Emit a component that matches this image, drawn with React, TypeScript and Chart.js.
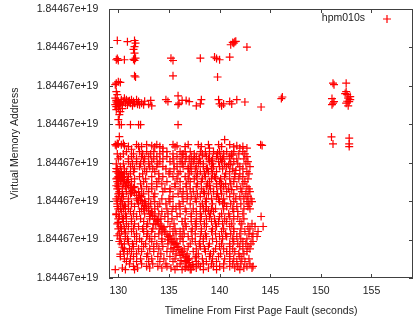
import React, { useEffect, useRef } from "react";
import { Chart, registerables } from "chart.js";

Chart.register(...registerables);

const seriesName = "hpm010s";
const xTitle = "Timeline From First Page Fault (seconds)";
const yTitle = "Virtual Memory Address";
const xTickValues = [130, 135, 140, 145, 150, 155];
const xTickLabels = ["130", "135", "140", "145", "150", "155"];
const yTickValues = [0, 1, 2, 3, 4, 5, 6, 7];
const yTickLabels = [
  "1.84467e+19", "1.84467e+19", "1.84467e+19", "1.84467e+19",
  "1.84467e+19", "1.84467e+19", "1.84467e+19", "1.84467e+19",
];

// sparse faults in the upper address range
const upperPoints: [number, number][] = [
  [129.9, 6.18], [130.9, 6.15], [131.6, 6.18], [131.7, 6.11], [131.6, 6.02], [131.5, 5.95],
  [131.6, 5.85], [131.7, 5.72], [131.5, 5.69], [131.6, 5.66], [129.8, 5.68], [130.0, 5.66],
  [130.6, 5.68], [129.9, 5.71], [135.2, 5.72], [135.4, 5.66], [138.1, 5.72], [139.5, 5.75],
  [139.7, 5.71], [140.0, 5.68], [141.0, 5.75], [141.1, 6.07], [141.3, 6.13], [141.5, 6.15],
  [141.6, 6.16], [141.4, 6.11], [142.7, 6.01], [131.6, 5.26], [131.7, 5.23], [135.4, 5.26],
  [139.8, 5.23], [129.8, 5.07], [130.0, 5.11], [130.2, 5.09], [129.7, 5.03], [129.8, 4.85],
  [129.9, 4.77],
];

// band of faults around the upper middle address
const upperBand: [number, number][] = [
  [129.7, 4.68], [129.8, 4.62], [130.0, 4.59], [130.2, 4.55], [129.7, 4.51], [129.8, 4.46],
  [130.3, 4.64], [130.5, 4.59], [130.7, 4.55], [130.8, 4.64], [131.0, 4.59], [131.2, 4.55],
  [131.3, 4.64], [131.5, 4.59], [131.6, 4.55], [131.8, 4.64], [132.0, 4.59], [132.1, 4.51],
  [132.3, 4.55], [132.5, 4.51], [130.0, 4.42], [130.2, 4.33], [129.8, 4.38], [130.1, 4.25],
  [130.4, 4.5], [130.9, 4.5], [131.4, 4.48], [129.9, 4.55], [130.1, 4.48], [133.2, 4.62],
  [133.3, 4.48], [134.7, 4.64], [134.9, 4.59], [135.9, 4.74], [136.0, 4.55], [135.9, 4.51],
  [136.3, 4.62], [136.7, 4.62], [137.0, 4.59], [137.7, 4.48], [138.1, 4.53], [138.2, 4.64],
  [139.9, 4.64], [140.0, 4.53], [140.2, 4.48], [140.4, 4.53], [141.0, 4.59], [141.2, 4.53],
  [141.7, 4.64], [142.5, 4.58], [144.1, 4.45], [146.2, 4.71], [146.1, 4.67],
  [130.6, 4.68], [131.1, 4.61], [131.9, 4.52], [132.6, 4.6], [133.0, 4.52], [130.4, 4.41],
  [130.0, 4.52], [129.8, 4.58],
  [130.0, 4.12], [130.1, 3.99], [130.3, 3.99], [131.2, 3.99], [132.0, 3.99], [132.2, 3.99],
  [135.9, 3.99],
];

// late faults near 151-153 s
const lateCluster: [number, number][] = [
  [151.2, 5.07], [151.3, 5.03], [152.5, 5.07], [151.1, 4.67], [151.2, 4.55], [151.1, 4.51],
  [151.3, 4.59], [152.5, 4.85], [152.6, 4.77], [152.7, 4.68], [152.8, 4.59], [152.5, 4.55],
  [152.7, 4.48], [152.9, 4.64], [152.9, 4.72], [151.05, 3.67], [151.2, 3.49], [152.8, 3.64],
  [152.8, 3.49], [152.8, 3.42], [152.4, 4.8], [152.6, 4.6],
];

// band just above the dense block
const lowerBand: [number, number][] = [
  [129.7, 3.47], [129.8, 3.44], [130.0, 3.49], [130.1, 3.68], [130.3, 3.47], [130.6, 3.44],
  [131.0, 3.42], [131.3, 3.35], [131.8, 3.47], [132.0, 3.42], [132.3, 3.42], [132.8, 3.47],
  [133.3, 3.44], [133.6, 3.41], [133.8, 3.47], [134.1, 3.42], [134.4, 3.38], [135.4, 3.47],
  [135.6, 3.41], [135.8, 3.44], [136.6, 3.42], [136.9, 3.47], [137.9, 3.47], [138.2, 3.42],
  [138.9, 3.47], [139.0, 3.38], [139.9, 3.47], [140.2, 3.42], [140.5, 3.6], [141.0, 3.47],
  [141.4, 3.41], [141.7, 3.44], [142.0, 3.38], [142.3, 3.42], [142.7, 3.38], [144.05, 3.47],
  [144.2, 3.45], [130.5, 3.5], [129.9, 3.5],
];

// dense block, read row by row
const denseRowY = [
  3.29, 3.16, 3.03, 2.9, 2.77, 2.64, 2.51, 2.38, 2.25, 2.12, 1.99, 1.86, 1.73,
  1.6, 1.47, 1.34, 1.21, 1.08, 0.95, 0.82, 0.69, 0.56, 0.43, 0.3, 0.22,
  3.23, 3.1, 2.97, 2.84, 2.71, 2.58, 2.45, 2.32, 2.19, 2.06, 1.93, 1.8,
  1.67, 1.54, 1.41, 1.28, 1.15, 1.02, 0.89, 0.76, 0.63, 0.5, 0.37, 0.26,
];
const denseRowX: number[][] = [
  [130.8, 132.1, 132.8, 133.5, 134.4, 134.8, 136.1, 136.6, 137.1, 138.1, 138.6, 139.4, 140.0, 140.7, 141.4, 142.3],
  [130.2, 131.3, 132.3, 133.0, 133.8, 134.8, 135.8, 136.7, 137.2, 137.7, 138.7, 139.7, 140.4, 141.0, 142.7],
  [131.0, 131.8, 132.5, 133.3, 134.1, 135.1, 136.1, 136.6, 137.4, 138.1, 139.0, 139.9, 140.2, 141.4, 142.8],
  [130.2, 131.2, 132.1, 133.1, 133.8, 134.4, 135.8, 136.4, 137.1, 137.7, 138.4, 139.4, 140.0, 140.7, 142.0, 143.0],
  [129.8, 130.3, 130.8, 131.5, 132.8, 133.6, 135.1, 136.1, 137.2, 138.1, 138.9, 139.7, 141.0, 142.7],
  [130.0, 130.5, 131.0, 132.1, 133.3, 134.4, 135.4, 136.6, 137.7, 138.6, 139.5, 140.5, 141.5, 142.3],
  [129.9, 130.2, 131.3, 132.5, 133.8, 134.8, 136.1, 137.1, 138.2, 139.0, 140.0, 141.4, 142.5],
  [130.0, 130.7, 131.6, 132.8, 133.8, 135.6, 136.7, 137.7, 138.7, 139.7, 140.4, 141.7, 142.7],
  [130.1, 130.8, 132.0, 133.0, 134.4, 135.1, 136.4, 137.4, 138.4, 139.4, 140.7, 142.2, 143.0],
  [130.0, 130.5, 132.3, 133.5, 135.4, 136.3, 137.2, 138.1, 139.7, 141.0, 142.0, 142.8],
  [130.2, 131.0, 132.6, 133.6, 135.1, 136.4, 137.7, 138.6, 140.0, 141.4, 142.7, 143.2],
  [129.9, 130.7, 131.6, 133.0, 133.9, 135.4, 136.1, 138.1, 138.7, 140.7, 141.7, 142.8],
  [130.3, 131.2, 132.1, 133.3, 134.3, 135.3, 136.7, 137.7, 138.6, 139.4, 141.4, 141.8],
  [130.1, 130.8, 131.8, 133.6, 134.6, 135.8, 137.2, 138.2, 139.0, 140.0, 141.0, 141.8, 144.1],
  [130.5, 131.3, 132.5, 133.9, 134.9, 136.3, 137.2, 138.1, 139.2, 139.9, 140.7, 142.0],
  [130.2, 131.0, 132.0, 132.8, 134.3, 135.1, 136.7, 137.7, 138.7, 139.7, 141.0, 142.8, 143.5, 144.3],
  [130.3, 131.3, 132.5, 133.3, 134.6, 135.4, 136.1, 137.2, 138.2, 139.2, 140.2, 141.4, 142.5, 143.8],
  [130.7, 131.6, 132.8, 133.6, 134.9, 136.3, 136.9, 138.1, 138.7, 140.0, 140.7, 141.7, 143.2, 143.7],
  [131.0, 131.8, 132.3, 133.3, 134.3, 135.3, 136.4, 137.6, 138.4, 139.7, 141.4, 142.3, 143.3],
  [131.5, 132.5, 133.5, 134.4, 135.9, 136.9, 138.1, 138.9, 140.0, 141.0, 142.0, 142.8],
  [130.5, 131.3, 132.3, 133.5, 134.8, 135.4, 136.3, 137.4, 138.6, 139.4, 140.7, 141.5, 142.7],
  [130.2, 131.5, 132.8, 133.9, 135.1, 136.7, 137.7, 139.0, 139.9, 141.0, 142.0],
  [130.8, 131.8, 133.0, 134.1, 135.4, 136.6, 137.7, 138.7, 139.7, 141.0, 141.7, 142.5],
  [131.5, 132.8, 133.9, 134.8, 135.8, 136.7, 137.4, 138.1, 139.4, 140.0, 141.0, 141.8, 142.7, 143.3],
  [129.7, 130.7, 131.6, 135.6, 136.3, 137.1, 138.4, 139.7, 142.0],
  [129.9, 130.5, 131.5, 132.4, 133.2, 134.1, 135.4, 136.4, 137.5, 138.3, 139.0, 139.8, 140.4, 141.2, 141.9, 142.5],
  [130.0, 131.0, 131.8, 132.6, 133.5, 134.4, 135.4, 136.3, 137.0, 138.0, 138.9, 139.3, 140.1, 141.0, 141.7, 142.4],
  [129.8, 130.5, 131.4, 132.2, 133.0, 133.9, 135.5, 136.3, 137.2, 138.4, 139.3, 140.5, 141.1, 141.8, 142.6],
  [129.9, 130.6, 131.6, 132.6, 133.4, 134.7, 135.5, 136.9, 137.6, 138.7, 139.2, 140.3, 141.3, 142.3],
  [130.1, 130.6, 131.2, 132.4, 134.0, 135.0, 135.9, 137.0, 137.8, 138.5, 139.3, 140.6, 141.5, 142.0, 142.9],
  [129.8, 130.3, 131.6, 132.7, 134.0, 135.8, 136.9, 137.5, 138.3, 139.2, 140.1, 141.0, 141.9, 142.8],
  [130.0, 130.5, 131.0, 132.2, 133.3, 134.3, 135.6, 136.7, 137.8, 138.8, 139.7, 140.6, 141.1, 142.3],
  [129.9, 130.4, 131.3, 132.3, 133.3, 134.6, 135.1, 136.1, 137.1, 138.2, 139.1, 140.1, 140.9, 142.1, 142.9],
  [130.0, 130.4, 131.2, 132.5, 133.6, 135.9, 136.8, 137.8, 138.9, 139.8, 140.2, 141.4, 142.6],
  [129.8, 130.3, 131.0, 131.8, 133.0, 134.3, 135.0, 136.8, 137.6, 138.7, 139.2, 140.4, 141.6, 142.4, 143.1],
  [129.9, 130.4, 131.3, 132.0, 133.2, 134.1, 134.7, 136.0, 137.1, 138.3, 139.3, 140.3, 141.1, 142.1, 142.9],
  [130.0, 130.5, 131.0, 132.3, 133.6, 134.8, 135.7, 136.6, 137.4, 138.4, 139.2, 140.4, 141.3, 142.4, 143.0],
  [129.8, 130.7, 131.5, 132.6, 134.0, 134.9, 136.1, 137.2, 138.1, 139.1, 140.2, 140.9, 142.3],
  [130.0, 130.4, 131.3, 132.2, 133.1, 134.2, 135.3, 136.6, 137.7, 138.7, 139.5, 140.5, 141.4, 142.4],
  [129.9, 130.8, 131.6, 132.9, 133.5, 135.5, 136.6, 137.6, 138.5, 139.6, 140.3, 141.2, 142.2, 143.2],
  [130.0, 130.6, 131.5, 132.4, 133.4, 134.1, 135.6, 136.4, 137.3, 138.2, 139.3, 140.4, 141.4, 142.1, 143.0],
  [130.1, 130.7, 131.8, 132.9, 134.0, 135.7, 136.5, 137.6, 138.6, 139.6, 140.6, 141.1, 142.0, 142.9, 143.3],
  [130.2, 130.9, 132.1, 133.1, 134.3, 135.5, 136.1, 137.3, 138.4, 139.3, 140.3, 141.3, 142.1, 142.7],
  [130.3, 130.6, 131.4, 132.7, 133.8, 134.9, 135.8, 137.1, 138.0, 139.0, 140.2, 141.0, 141.8, 142.6, 143.1],
  [130.6, 131.1, 132.0, 133.1, 134.0, 135.2, 136.5, 137.7, 138.5, 139.6, 140.4, 141.3, 142.3, 143.0],
  [130.9, 131.8, 132.9, 134.2, 135.7, 136.8, 137.9, 139.1, 140.1, 141.0, 141.9, 142.4],
  [130.6, 131.2, 132.2, 133.3, 134.5, 135.6, 137.0, 138.3, 139.3, 140.5, 141.4, 142.2, 142.9],
  [131.1, 132.3, 133.4, 134.7, 136.1, 137.9, 138.4, 139.2, 140.4, 141.3, 142.1, 143.0],
  [130.4, 131.9, 133.1, 134.3, 135.2, 136.6, 137.7, 138.9, 140.4, 141.5, 142.4, 143.2],
];

// the sweeping diagonal streak and the dense left column
const diagonalPoints: [number, number][] = [
  [130.0, 2.73], [130.2, 2.68], [130.4, 2.62], [130.6, 2.55], [130.8, 2.49], [131.0, 2.41],
  [131.2, 2.36], [131.4, 2.28], [131.6, 2.22], [131.8, 2.15], [132.0, 2.08], [132.2, 2.02],
  [132.4, 1.95], [132.6, 1.87], [132.8, 1.81], [133.0, 1.75], [133.2, 1.67], [133.4, 1.62],
  [133.6, 1.54], [133.8, 1.48], [134.0, 1.41], [134.2, 1.35], [134.4, 1.27], [134.6, 1.21],
  [134.8, 1.14], [135.0, 1.07], [135.2, 1.01], [135.4, 0.93], [135.6, 0.88], [135.8, 0.8],
  [136.0, 0.74], [136.2, 0.67], [136.4, 0.6], [136.6, 0.54], [136.8, 0.46], [137.0, 0.4],
  [137.1, 0.31], [130.3, 2.75], [130.9, 2.56], [131.5, 2.35], [132.1, 2.15], [132.7, 1.93],
  [133.3, 1.72], [133.9, 1.52], [134.5, 1.32], [135.1, 1.1], [135.7, 0.9], [136.3, 0.7],
  [136.9, 0.5], [130.1, 2.62], [130.7, 2.42], [131.3, 2.21], [131.9, 2.01], [132.5, 1.8],
  [133.1, 1.6], [133.7, 1.4], [134.3, 1.2], [134.9, 0.99], [135.5, 0.79], [136.1, 0.59],
  [136.7, 0.39], [137.2, 0.22],
];
const leftColumn: [number, number][] = [
  [129.8, 2.85], [129.9, 2.6], [129.8, 2.4], [130.1, 2.2], [129.9, 2.0], [130.2, 1.8],
  [129.8, 1.65], [130.0, 1.45], [130.3, 1.3], [129.9, 1.1], [130.1, 0.95], [130.4, 0.8],
  [130.2, 0.62], [130.6, 1.9], [130.5, 1.55], [130.7, 1.2],
];
const extraDense: [number, number][] = [
  [136.3, 3.22], [137.5, 3.1], [138.3, 3.2], [139.2, 3.05], [139.8, 3.25], [140.3, 3.1],
  [141.2, 3.2], [140.9, 2.95], [138.8, 2.85], [137.9, 2.98], [136.9, 2.85], [141.6, 2.8],
  [139.0, 2.4], [138.5, 2.2], [139.6, 2.6], [140.2, 2.45], [139.9, 2.05], [140.5, 1.95],
  [138.9, 1.75], [139.6, 1.8], [141.2, 2.3], [136.2, 0.45], [136.9, 0.28], [137.6, 0.52],
  [137.3, 0.35],
];

const FONT = { family: '"Liberation Sans", Arial, sans-serif', size: 10.5 };
const TEXT_COLOR = "#222";

const framePlugin = {
  id: "gnuFrame",
  beforeDatasetsDraw(chart: any) {
    const { ctx, chartArea, scales } = chart;
    const { left, right, top, bottom } = chartArea;
    ctx.save();
    ctx.strokeStyle = "#404040";
    ctx.lineWidth = 1;
    ctx.strokeRect(left + 0.5, top + 0.5, right - left - 1, bottom - top - 1);
    const tl = 4;
    ctx.beginPath();
    scales.x.ticks.forEach((t: any) => {
      const px = Math.round(scales.x.getPixelForValue(t.value)) + 0.5;
      ctx.moveTo(px, bottom);
      ctx.lineTo(px, bottom - tl);
      ctx.moveTo(px, top);
      ctx.lineTo(px, top + tl);
    });
    scales.y.ticks.forEach((t: any) => {
      const py = Math.round(scales.y.getPixelForValue(t.value)) + 0.5;
      ctx.moveTo(left, py);
      ctx.lineTo(left + tl, py);
      ctx.moveTo(right, py);
      ctx.lineTo(right - tl, py);
    });
    ctx.stroke();
    ctx.restore();
  },
  afterDraw(chart: any) {
    const { ctx, chartArea } = chart;
    const { right, top } = chartArea;
    ctx.save();
    ctx.font = `${FONT.size}px ${FONT.family}`;
    ctx.fillStyle = TEXT_COLOR;
    ctx.textAlign = "right";
    ctx.textBaseline = "middle";
    ctx.fillText(seriesName, right - 48, top + 9.5);
    const mx = right - 26;
    const my = top + 10;
    ctx.strokeStyle = "rgb(255,0,0)";
    ctx.lineWidth = 1.2;
    ctx.beginPath();
    ctx.moveTo(mx - 4, my);
    ctx.lineTo(mx + 4, my);
    ctx.moveTo(mx, my - 4);
    ctx.lineTo(mx, my + 4);
    ctx.stroke();
    ctx.restore();
  },
};

export default function App() {
  const ref = useRef<HTMLCanvasElement>(null);
  useEffect(() => {
    if (!ref.current) return;
    const dense: { x: number; y: number }[] = [];
    denseRowY.forEach((y, i) => denseRowX[i].forEach((x) => dense.push({ x, y })));
    const toPts = (arr: [number, number][]) => arr.map(([x, y]) => ({ x, y }));
    const data = [
      ...toPts(upperPoints),
      ...toPts(upperBand),
      ...toPts(lateCluster),
      ...toPts(lowerBand),
      ...dense,
      ...toPts(diagonalPoints),
      ...toPts(leftColumn),
      ...toPts(extraDense),
    ];
    const chart = new Chart(ref.current, {
      type: "scatter",
      data: {
        datasets: [
          {
            label: seriesName,
            data,
            pointStyle: "cross",
            pointRadius: 4,
            pointBorderWidth: 1.2,
            borderColor: "rgb(255,0,0)",
            backgroundColor: "rgb(255,0,0)",
          },
        ],
      },
      options: {
        animation: false,
        responsive: true,
        maintainAspectRatio: false,
        devicePixelRatio: 1,
        layout: { autoPadding: false, padding: { top: 9, right: 1, left: 0, bottom: 0 } },
        plugins: { legend: { display: false }, tooltip: { enabled: false } },
        scales: {
          x: {
            type: "linear",
            min: 129.08,
            max: 159.1,
            afterBuildTicks: (s: any) => {
              s.ticks = xTickValues.map((v) => ({ value: v }));
            },
            afterFit: (s: any) => {
              s.height = 43;
              s.paddingLeft = 0;
              s.paddingRight = 0;
            },
            grid: { display: false, drawTicks: false, tickLength: 0 },
            border: { display: false },
            ticks: {
              autoSkip: false,
              maxRotation: 0,
              padding: 7,
              font: FONT,
              color: TEXT_COLOR,
              callback: (_v: any, i: number) => xTickLabels[i],
            },
            title: {
              display: true,
              text: xTitle,
              font: FONT,
              color: TEXT_COLOR,
              padding: { top: 0, bottom: 3.7 },
            },
          },
          y: {
            type: "linear",
            min: 0,
            max: 7,
            afterBuildTicks: (s: any) => {
              s.ticks = yTickValues.map((v) => ({ value: v }));
            },
            afterFit: (s: any) => {
              s.width = 109;
              s.paddingTop = 0;
              s.paddingBottom = 0;
            },
            grid: { display: false, drawTicks: false, tickLength: 0 },
            border: { display: false },
            ticks: {
              autoSkip: false,
              padding: 10.7,
              font: FONT,
              color: TEXT_COLOR,
              callback: (_v: any, i: number) => yTickLabels[i],
            },
            title: {
              display: true,
              text: yTitle,
              font: FONT,
              color: TEXT_COLOR,
              padding: { top: 9.2, bottom: 0 },
            },
          },
        },
      },
      plugins: [framePlugin],
    });
    return () => chart.destroy();
  }, []);
  return (
    <div style={{ position: "absolute", left: 0, top: 0, width: 414, height: 321 }}>
      <canvas ref={ref} />
    </div>
  );
}
